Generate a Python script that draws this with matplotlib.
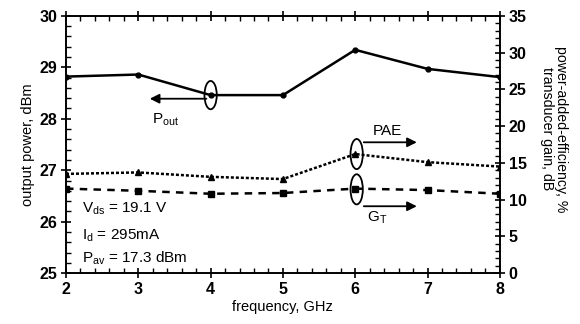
import matplotlib
matplotlib.use("Agg")
import matplotlib.pyplot as plt
from matplotlib.patches import Ellipse
from matplotlib.ticker import MultipleLocator

plt.rcParams['font.family'] = ['Liberation Sans', 'DejaVu Sans']

freq = [2, 3, 4, 5, 6, 7, 8]
pout = [28.82, 28.86, 28.46, 28.46, 29.34, 28.97, 28.81]
pae = [13.5, 13.7, 13.1, 12.8, 16.2, 15.1, 14.5]
gt = [11.5, 11.2, 10.8, 10.9, 11.5, 11.3, 10.8]

xticks = [2, 3, 4, 5, 6, 7, 8]
yticks_left = [25, 26, 27, 28, 29, 30]
yticks_right = [0, 5, 10, 15, 20, 25, 30, 35]

fig = plt.figure(figsize=(5.8, 3.24), dpi=100)
ax = fig.add_axes([0.1138, 0.157, 0.748, 0.794])
ax2 = ax.twinx()

ax.plot(freq, pout, '-', color='black', lw=1.8, marker='o', ms=3.5)
ax2.plot(freq, pae, linestyle=(0, (1.2, 0.8)), color='black', lw=1.8, marker='^', ms=4)
ax2.plot(freq, gt, linestyle=(0, (3, 2.5)), color='black', lw=1.8, marker='s', ms=4)

ax.set_xlim(2, 8)
ax.set_ylim(25, 30)
ax2.set_ylim(0, 35)
ax.set_xticks(xticks)
ax.set_yticks(yticks_left)
ax2.set_yticks(yticks_right)
ax.xaxis.set_minor_locator(MultipleLocator(0.2))
ax.yaxis.set_minor_locator(MultipleLocator(0.2))
ax2.yaxis.set_minor_locator(MultipleLocator(1))

for a in (ax, ax2):
    for s in a.spines.values():
        s.set_linewidth(1.2)
ax.tick_params(axis='both', which='major', direction='inout', length=7, width=1.2,
               labelsize=11.5, pad=3)
ax.tick_params(axis='both', which='minor', direction='in', length=3.5, width=1)
ax.tick_params(axis='x', which='both', top=True)
ax2.tick_params(axis='y', which='major', direction='inout', length=7, width=1.2,
                labelsize=11.5, pad=3)
ax2.tick_params(axis='y', which='minor', direction='in', length=3.5, width=1)
for lab in ax.get_xticklabels() + ax.get_yticklabels() + ax2.get_yticklabels():
    lab.set_fontweight('bold')

ax.set_xlabel('frequency, GHz', fontsize=10.5, labelpad=2)
ax.set_ylabel('output power, dBm', fontsize=10.5, labelpad=3)
ax2.set_ylabel('power-added-efficiency, %\ntransducer gain, dB', fontsize=10.2,
               rotation=-90, linespacing=0.95, va='center', ha='center')
ax2.yaxis.set_label_coords(1.125, 0.56)

# annotations (in data coords of respective axes)
ax.add_patch(Ellipse((4, 28.46), 0.17, 0.55, fill=False, lw=1.3, color='black'))
ax.annotate('', xy=(3.12, 28.39), xytext=(3.98, 28.39),
            arrowprops=dict(arrowstyle='-|>', lw=1.3, color='black', mutation_scale=14))
ax.text(3.37, 27.98, r'$\mathregular{P_{out}}$', fontsize=11, ha='center', va='center')

ax2.add_patch(Ellipse((6.02, 16.2), 0.17, 4.1, fill=False, lw=1.3, color='black'))
ax2.add_patch(Ellipse((6.02, 11.4), 0.17, 4.1, fill=False, lw=1.3, color='black'))
ax2.annotate('', xy=(6.89, 17.8), xytext=(6.08, 17.8),
             arrowprops=dict(arrowstyle='-|>', lw=1.3, color='black', mutation_scale=14))
ax2.annotate('', xy=(6.89, 9.1), xytext=(6.08, 9.1),
             arrowprops=dict(arrowstyle='-|>', lw=1.3, color='black', mutation_scale=14))
ax2.text(6.45, 19.3, 'PAE', fontsize=11, ha='center', va='center')
ax2.text(6.3, 7.5, r'$\mathregular{G_T}$', fontsize=11, ha='center', va='center')

ax.text(2.22, 26.26, r'$\mathregular{V_{ds}}$ = 19.1 V', fontsize=11, ha='left', va='center')
ax.text(2.22, 25.72, r'$\mathregular{I_d}$ = 295mA', fontsize=11, ha='left', va='center')
ax.text(2.22, 25.29, r'$\mathregular{P_{av}}$ = 17.3 dBm', fontsize=11, ha='left', va='center')

fig.savefig('out.png', dpi=100)
